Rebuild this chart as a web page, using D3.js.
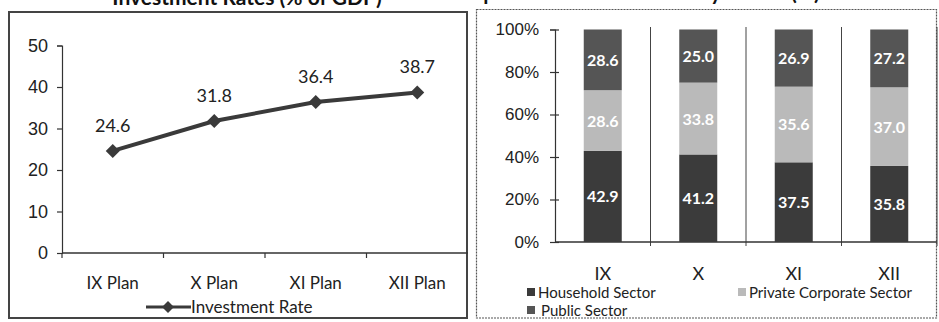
<!DOCTYPE html>
<html>
<head>
<meta charset="utf-8">
<script src="https://cdn.jsdelivr.net/npm/d3@7"></script>
<style>
  body { margin: 0; background: #fff; }
  svg { display: block; font-family: Lato, "Open Sans", sans-serif; }
</style>
</head>
<body>
<div id="chart"></div>
<script>
// data
const plans = ["IX Plan", "X Plan", "XI Plan", "XII Plan"];
const investmentRate = [24.6, 31.8, 36.4, 38.7];
const rateTicks = [0, 10, 20, 30, 40, 50];

const sectorPlans = ["IX", "X", "XI", "XII"];
const household = [42.9, 41.2, 37.5, 35.8];
const privateCorporate = [28.6, 33.8, 35.6, 37.0];
const publicSector = [28.6, 25.0, 26.9, 27.2];
const sectorNames = ["Household Sector", "Private Corporate Sector", "Public Sector"];
const shareTicks = [0, 0.2, 0.4, 0.6, 0.8, 1];

const width = 939, height = 322;
const ink = "#333";

const svg = d3.select("#chart").append("svg")
    .attr("width", width)
    .attr("height", height);

// titles, cut off at the very top as in the scan
svg.append("text")
    .attr("x", 247).attr("y", 5)
    .attr("text-anchor", "middle")
    .attr("font-size", 21).attr("font-weight", "bold")
    .attr("fill", "#111")
    .text("Investment Rates (% of GDP)");
svg.append("text")
    .attr("x", 440).attr("y", 0)
    .attr("font-size", 21).attr("font-weight", "bold")
    .attr("fill", "#111")
    .text("Composition of Investment by Sector (%)");

// panel frames
svg.append("rect")
    .attr("x", 9).attr("y", 12).attr("width", 458).attr("height", 306)
    .attr("fill", "none").attr("stroke", "#444").attr("stroke-width", 2);
svg.append("rect")
    .attr("x", 476.5).attr("y", 9.5).attr("width", 460).attr("height", 308.5)
    .attr("fill", "none").attr("stroke", "#555").attr("stroke-width", 1.2)
    .attr("stroke-dasharray", "2,1");

// ---------- left: investment rate line ----------
const x1 = d3.scaleBand().domain(plans).range([62, 468]);
const y1 = d3.scaleLinear().domain([0, 50]).range([253, 45.5]);

const left = svg.append("g");

left.append("g")
    .attr("transform", "translate(62,0)")
    .call(d3.axisLeft(y1).tickValues(rateTicks).tickSize(5).tickPadding(9))
    .call(g => g.selectAll("path, line").attr("stroke", ink).attr("stroke-width", 1.2))
    .call(g => g.selectAll("text").attr("fill", "#222").attr("font-size", 18).attr("font-family", null));

left.append("line")
    .attr("x1", 62).attr("x2", 468).attr("y1", y1(0)).attr("y2", y1(0))
    .attr("stroke", ink).attr("stroke-width", 1.5);
left.selectAll(".xtick")
    .data(plans)
    .join("line")
      .attr("x1", d => x1(d)).attr("x2", d => x1(d))
      .attr("y1", y1(0)).attr("y2", y1(0) + 5)
      .attr("stroke", ink).attr("stroke-width", 1.2);

left.selectAll(".xlab")
    .data(plans)
    .join("text")
      .attr("x", d => x1(d) + x1.bandwidth() / 2)
      .attr("y", 289)
      .attr("text-anchor", "middle")
      .attr("font-size", 17).attr("fill", "#222")
      .text(d => d);

const pts = plans.map((p, i) => [x1(p) + x1.bandwidth() / 2, y1(investmentRate[i])]);
left.append("path")
    .attr("d", d3.line()(pts))
    .attr("fill", "none").attr("stroke", "#3a3a3a").attr("stroke-width", 4);

// square diamond marker
const diamond = "M0,-7L7,0L0,7L-7,0Z";
left.selectAll(".mark")
    .data(pts)
    .join("path")
      .attr("transform", d => `translate(${d[0]},${d[1]})`)
      .attr("d", diamond)
      .attr("fill", "#3a3a3a");

left.selectAll(".val")
    .data(investmentRate)
    .join("text")
      .attr("x", (d, i) => pts[i][0])
      .attr("y", (d, i) => pts[i][1] - 19)
      .attr("text-anchor", "middle")
      .attr("font-size", 18).attr("fill", "#222")
      .text(d => d.toFixed(1));

// legend
left.append("line")
    .attr("x1", 146).attr("x2", 191).attr("y1", 307).attr("y2", 307)
    .attr("stroke", "#3a3a3a").attr("stroke-width", 3);
left.append("path")
    .attr("transform", "translate(168,307) scale(0.85)")
    .attr("d", diamond)
    .attr("fill", "#3a3a3a");
left.append("text")
    .attr("x", 191).attr("y", 313)
    .attr("font-size", 17).attr("fill", "#222")
    .text("Investment Rate");

// ---------- right: 100% stacked columns ----------
const rows = sectorPlans.map((p, i) => ({
  plan: p,
  "Household Sector": household[i],
  "Private Corporate Sector": privateCorporate[i],
  "Public Sector": publicSector[i]
}));
const series = d3.stack().keys(sectorNames).offset(d3.stackOffsetExpand)(rows);

const x2 = d3.scaleBand().domain(sectorPlans).range([555, 937]);
const y2 = d3.scaleLinear().domain([0, 1]).range([242, 29.5]);
const color = d3.scaleOrdinal().domain(sectorNames).range(["#3b3b3b", "#bababa", "#555555"]);
const barW = 38;

const right = svg.append("g");

// vertical separators between categories
right.selectAll(".sep")
    .data(sectorPlans)
    .join("line")
      .attr("x1", d => x2(d) + x2.step()).attr("x2", d => x2(d) + x2.step())
      .attr("y1", 27).attr("y2", y2(0) + 4)
      .attr("stroke", "#444").attr("stroke-width", 1);

right.append("g")
    .attr("transform", "translate(555,0)")
    .call(d3.axisLeft(y2).tickValues(shareTicks).tickFormat(d3.format(".0%")).tickSize(5).tickPadding(11))
    .call(g => g.selectAll("path, line").attr("stroke", ink).attr("stroke-width", 1.2))
    .call(g => g.selectAll(".tick line").attr("x2", 4).attr("x1", -5))
    .call(g => g.selectAll("text").attr("fill", "#222").attr("font-size", 17).attr("font-family", null));

right.append("line")
    .attr("x1", 555).attr("x2", 937).attr("y1", y2(0)).attr("y2", y2(0))
    .attr("stroke", ink).attr("stroke-width", 1.5);

right.selectAll(".layer")
    .data(series)
    .join("g")
      .attr("fill", d => color(d.key))
    .selectAll("rect")
    .data(d => d)
    .join("rect")
      .attr("x", d => x2(d.data.plan) + x2.bandwidth() / 2 - barW / 2)
      .attr("y", d => y2(d[1]))
      .attr("width", barW)
      .attr("height", d => y2(d[0]) - y2(d[1]));

right.selectAll(".layerlab")
    .data(series)
    .join("g")
    .selectAll("text")
    .data(d => d.map(v => ({ v, key: d.key })))
    .join("text")
      .attr("x", d => x2(d.v.data.plan) + x2.bandwidth() / 2)
      .attr("y", d => (y2(d.v[0]) + y2(d.v[1])) / 2 + 6)
      .attr("text-anchor", "middle")
      .attr("font-size", 16).attr("font-weight", "bold")
      .attr("fill", "#fff")
      .text(d => d.v.data[d.key].toFixed(1));

right.selectAll(".xlab")
    .data(sectorPlans)
    .join("text")
      .attr("x", d => x2(d) + x2.bandwidth() / 2)
      .attr("y", 280)
      .attr("text-anchor", "middle")
      .attr("font-size", 18).attr("fill", "#222")
      .text(d => d);

// legend
const legendPos = [[527, 298], [738, 298], [527, 316]];
const legend = right.selectAll(".leg")
    .data(sectorNames)
    .join("g")
      .attr("transform", (d, i) => `translate(${legendPos[i][0]},${legendPos[i][1]})`);
legend.append("rect")
    .attr("x", 0).attr("y", -10).attr("width", 8).attr("height", 8)
    .attr("fill", d => color(d));
legend.append("text")
    .attr("x", d => d === "Public Sector" ? 14 : 11).attr("y", 0)
    .attr("font-size", 15).attr("fill", "#222")
    .text(d => d);
</script>
</body>
</html>
